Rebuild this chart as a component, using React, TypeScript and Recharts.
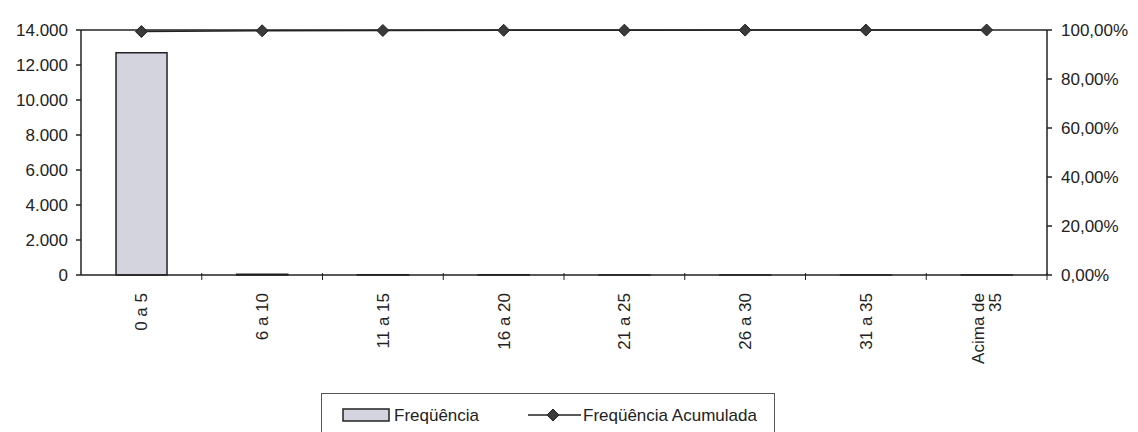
import { ComposedChart, Bar, Line, XAxis, YAxis, ReferenceLine } from 'recharts';

const categories = ['0 a 5', '6 a 10', '11 a 15', '16 a 20', '21 a 25', '26 a 30', '31 a 35', 'Acima de 35'];
const frequencia = [12700, 40, 15, 10, 6, 4, 2, 3];
const acumulada = [99.37, 99.69, 99.8, 99.88, 99.92, 99.95, 99.97, 100];
const leftTicks = [0, 2000, 4000, 6000, 8000, 10000, 12000, 14000];
const rightTicks = [0, 20, 40, 60, 80, 100];

const data = categories.map((faixa, i) => ({ faixa, freq: frequencia[i], acum: acumulada[i] }));

const FONT = '"Liberation Sans", Arial, sans-serif';
const INK = '#222';

const fmtNum = (v: number) => v.toLocaleString('pt-BR');
const fmtPct = (v: number) => v.toFixed(2).replace('.', ',') + '%';

function Diamond(props: any) {
    const { cx, cy } = props;
    if (cx == null || cy == null) return null;
    const r = 6;
    return <path d={`M${cx},${cy - r}L${cx + r},${cy}L${cx},${cy + r}L${cx - r},${cy}Z`} fill="#3a3a3a" stroke="#222" strokeWidth={1} />;
}

function CategoryTick(props: any) {
    const { x, y, payload, width, visibleTicksCount } = props;
    const band = width / (visibleTicksCount || 1);
    const words: string[] = payload.value === 'Acima de 35' ? ['Acima de', '35'] : [payload.value];
    const lineH = 17;
    const shift = -((words.length - 1) * lineH) / 2;
    return (
        <g>
            <line x1={x + band / 2} x2={x + band / 2} y1={y - 10} y2={y - 3} stroke={INK} strokeWidth={1} />
            <text transform={`translate(${x + shift + 6},${y + 10}) rotate(-90)`} textAnchor="end" fontFamily={FONT} fontSize={17} fill={INK}>
                {words.map((w, i) => (
                    <tspan key={i} x={0} dy={i === 0 ? 0 : lineH}>{w}</tspan>
                ))}
            </text>
        </g>
    );
}

function LegendBox() {
    return (
        <div style={{ position: 'absolute', left: 321, top: 393, width: 454, height: 60, border: '1px solid #555', boxSizing: 'border-box', fontFamily: FONT, fontSize: 17, color: INK }}>
            <svg width={454} height={40} style={{ position: 'absolute', left: 0, top: 0 }}>
                <rect x={21} y={15} width={46} height={12} fill="#d4d4de" stroke={INK} strokeWidth={1.5} />
                <text x={72} y={27} fontFamily={FONT} fontSize={17} fill={INK}>Freqüência</text>
                <line x1={206} x2={259} y1={21} y2={21} stroke={INK} strokeWidth={1.5} />
                <Diamond cx={231} cy={21} />
                <text x={261} y={27} fontFamily={FONT} fontSize={17} fill={INK}>Freqüência Acumulada</text>
            </svg>
        </div>
    );
}

export default function App() {
    return (
        <div style={{ position: 'absolute', left: 0, top: 0, width: 1138, height: 432, background: '#fff', overflow: 'hidden' }}>
            <ComposedChart width={1138} height={432} data={data} margin={{ top: 30, right: 0, left: 0, bottom: 0 }} barCategoryGap="29%">
                <XAxis dataKey="faixa" height={157} interval={0} tickLine={false} stroke={INK} strokeWidth={1.5} tick={<CategoryTick />} />
                <YAxis
                    yAxisId="left"
                    domain={[0, 14000]}
                    ticks={leftTicks}
                    width={81}
                    tickSize={5}
                    tickMargin={8}
                    stroke={INK}
                    strokeWidth={1.5}
                    tickFormatter={fmtNum}
                    tick={{ fill: INK, fontFamily: FONT, fontSize: 17 }}
                />
                <YAxis
                    yAxisId="right"
                    orientation="right"
                    domain={[0, 100]}
                    ticks={rightTicks}
                    width={91}
                    tickSize={5}
                    tickMargin={9}
                    stroke={INK}
                    strokeWidth={1.5}
                    tickFormatter={fmtPct}
                    tick={{ fill: INK, fontFamily: FONT, fontSize: 17 }}
                />
                <ReferenceLine yAxisId="left" y={14000} stroke={INK} strokeWidth={1.5} />
                <Bar yAxisId="left" dataKey="freq" fill="#d4d4de" stroke={INK} strokeWidth={1.5} isAnimationActive={false} />
                <Line yAxisId="right" dataKey="acum" stroke={INK} strokeWidth={1.5} dot={<Diamond />} activeDot={false} isAnimationActive={false} />
            </ComposedChart>
            <LegendBox />
        </div>
    );
}
